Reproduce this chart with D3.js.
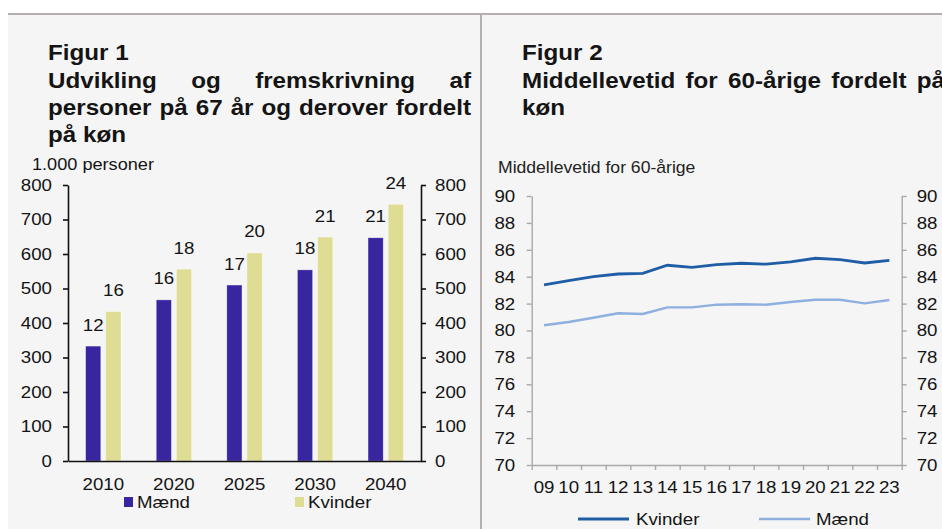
<!DOCTYPE html>
<html>
<head>
<meta charset="utf-8">
<script src="https://cdn.jsdelivr.net/npm/d3@7"></script>
<style>
  body { margin: 0; background: #fff; }
  svg { display: block; font-family: "Liberation Sans", Arial, sans-serif; }
</style>
</head>
<body>
<svg id="chart"></svg>
<script>
// figure 1 data (1.000 personer)
const years1 = ["2010", "2020", "2025", "2030", "2040"];
const series1 = ["Mænd", "Kvinder"];
const maend1 = [333, 467, 510, 554, 647];
const kvinder1 = [433, 556, 603, 649, 744];
const maendLabels = [12, 16, 17, 18, 21];
const kvinderLabels = [16, 18, 20, 21, 24];
const yTicks1 = [0, 100, 200, 300, 400, 500, 600, 700, 800];

// figure 2 data (middellevetid)
const years2 = ["09", "10", "11", "12", "13", "14", "15", "16", "17", "18", "19", "20", "21", "22", "23"];
const kvinder2 = [83.4, 83.7, 84.0, 84.2, 84.25, 84.85, 84.7, 84.9, 85.0, 84.93, 85.1, 85.37, 85.27, 85.02, 85.22];
const maend2 = [80.39, 80.63, 80.95, 81.28, 81.23, 81.72, 81.72, 81.92, 81.95, 81.92, 82.12, 82.29, 82.29, 82.02, 82.27];
const yTicks2 = [70, 72, 74, 76, 78, 80, 82, 84, 86, 88, 90];

const W = 942, H = 529;
const SX = 1.1; // the source is a bit stretched sideways
const ink = "#141414";

const svg = d3.select("#chart").attr("width", W).attr("height", H);

// background panels
svg.append("rect").attr("x", 8).attr("y", 14).attr("width", W - 8).attr("height", H - 14).attr("fill", "#f5f5f5");
svg.append("rect").attr("x", 8).attr("y", 13).attr("width", W - 8).attr("height", 2).attr("fill", "#b5b0ae");
svg.append("rect").attr("x", 480).attr("y", 13).attr("width", 2).attr("height", H - 13).attr("fill", "#b5b0ae");

function txt(g, x, y, s, size, opts = {}) {
    return g.append("text")
        .attr("transform", `translate(${x},${y}) scale(${SX},1)`)
        .attr("text-anchor", opts.anchor || "start")
        .attr("font-size", size)
        .attr("font-weight", opts.bold ? "bold" : "normal")
        .attr("fill", opts.fill || ink)
        .text(s);
}

// justified title lines: spread the words over the full width
function justify(g, x, y, words, width, size) {
    const nodes = words.map(w => txt(g, 0, y, w, size, {bold: true}));
    const widths = nodes.map(n => n.node().getComputedTextLength() * SX);
    const gap = (width - d3.sum(widths)) / (words.length - 1);
    let cx = x;
    nodes.forEach((n, i) => {
        n.attr("transform", `translate(${cx},${y}) scale(${SX},1)`);
        cx += widths[i] + gap;
    });
}

function styleAxis(g, color, width) {
    g.selectAll("path, line").attr("stroke", color).attr("stroke-width", width);
    g.selectAll("text")
        .attr("font-size", 17)
        .attr("fill", ink)
        .attr("font-family", "Liberation Sans, Arial, sans-serif");
}

// ---------- Figur 1 ----------
const t1 = svg.append("g");
txt(t1, 48, 60, "Figur 1", 22, {bold: true});
justify(t1, 48, 87.5, ["Udvikling", "og", "fremskrivning", "af"], 423, 22);
justify(t1, 48, 114.5, ["personer", "på", "67", "år", "og", "derover", "fordelt"], 423, 22);
txt(t1, 48, 141.5, "på køn", 22, {bold: true});
txt(t1, 32, 170, "1.000 personer", 16.5);

const p1 = {left: 68, right: 421, top: 185, bottom: 461};
const x0 = d3.scaleBand().domain(years1).range([p1.left, p1.right]).paddingInner(0.5).paddingOuter(0.25);
const x1 = d3.scaleBand().domain(series1).range([0, x0.bandwidth()]).paddingInner(0.25);
const y1 = d3.scaleLinear().domain([0, 800]).range([p1.bottom, p1.top]);
const colors1 = {"Mænd": "#3826a0", "Kvinder": "#dfdc93"};

const bars = years1.map((yr, i) => [
    {year: yr, key: "Mænd", value: maend1[i], label: maendLabels[i]},
    {year: yr, key: "Kvinder", value: kvinder1[i], label: kvinderLabels[i]}
]).flat();

const c1 = svg.append("g");
c1.selectAll("rect.bar")
    .data(bars)
    .join("rect")
    .attr("class", "bar")
    .attr("x", d => x0(d.year) + x1(d.key))
    .attr("y", d => y1(d.value))
    .attr("width", x1.bandwidth())
    .attr("height", d => y1(0) - y1(d.value))
    .attr("fill", d => colors1[d.key])
    .attr("stroke", "#ffffff")
    .attr("stroke-opacity", 0.5)
    .attr("stroke-width", 0.6);

bars.forEach(d => {
    txt(c1, x0(d.year) + x1(d.key) + x1.bandwidth() / 2, y1(d.value) - 15.5, d.label, 17, {anchor: "middle"});
});

const yl1 = c1.append("g")
    .attr("transform", `translate(${p1.left},0)`)
    .call(d3.axisLeft(y1).tickValues(yTicks1).tickSize(5).tickSizeOuter(0));
styleAxis(yl1, "#111", 1.6);
yl1.selectAll("text").attr("transform", `scale(${SX},1)`).attr("x", -16 / SX);

const yr1 = c1.append("g")
    .attr("transform", `translate(${p1.right},0)`)
    .call(d3.axisRight(y1).tickValues(yTicks1).tickSize(5).tickSizeOuter(0));
styleAxis(yr1, "#111", 1.6);
yr1.selectAll("text").attr("transform", `scale(${SX},1)`).attr("x", 14 / SX);

const xa1 = c1.append("g")
    .attr("transform", `translate(0,${p1.bottom})`)
    .call(d3.axisBottom(x0).tickSize(0).tickSizeOuter(0));
styleAxis(xa1, "#111", 1.6);
xa1.selectAll("text").attr("transform", `scale(${SX},1)`).attr("y", 29).attr("dy", 0);

// legend 1
const lg1 = svg.append("g");
[["Mænd", 124, 137], ["Kvinder", 295, 308]].forEach(([k, sx, tx]) => {
    lg1.append("rect").attr("x", sx).attr("y", 497).attr("width", 9).attr("height", 10).attr("fill", colors1[k]);
    txt(lg1, tx, 508, k, 17);
});

// ---------- Figur 2 ----------
const t2 = svg.append("g");
txt(t2, 522, 60, "Figur 2", 22, {bold: true});
justify(t2, 522, 87.5, ["Middellevetid", "for", "60-årige", "fordelt", "på"], 423, 22);
txt(t2, 522, 114.5, "køn", 22, {bold: true});
txt(t2, 498, 173, "Middellevetid for 60-årige", 16, {fill: "#222"});

const p2 = {left: 531.7, right: 901.7, top: 196, bottom: 465};
const x2 = d3.scaleBand().domain(years2).range([p2.left, p2.right]);
const xEdges = d3.scaleLinear().domain([0, years2.length]).range([p2.left, p2.right]);
const y2 = d3.scaleLinear().domain([70, 90]).range([p2.bottom, p2.top]);
const axisGrey = "#a9a9a9";

const c2 = svg.append("g");
const yl2 = c2.append("g")
    .attr("transform", `translate(${p2.left},0)`)
    .call(d3.axisLeft(y2).tickValues(yTicks2).tickSize(5).tickSizeOuter(0));
styleAxis(yl2, axisGrey, 1.4);
yl2.selectAll("text").attr("transform", `scale(${SX},1)`).attr("x", -16.5 / SX);

const yr2 = c2.append("g")
    .attr("transform", `translate(${p2.right},0)`)
    .call(d3.axisRight(y2).tickValues(yTicks2).tickSize(5).tickSizeOuter(0));
styleAxis(yr2, axisGrey, 1.4);
yr2.selectAll("text").attr("transform", `scale(${SX},1)`).attr("x", 15 / SX);

const xt2 = c2.append("g")
    .attr("transform", `translate(0,${p2.bottom})`)
    .call(d3.axisBottom(xEdges).ticks(years2.length).tickFormat("").tickSize(5).tickSizeOuter(0));
styleAxis(xt2, axisGrey, 1.4);

const xa2 = c2.append("g")
    .attr("transform", `translate(0,${p2.bottom})`)
    .call(d3.axisBottom(x2).tickSize(0).tickSizeOuter(0));
xa2.select(".domain").remove();
styleAxis(xa2, axisGrey, 1.4);
xa2.selectAll("text").attr("transform", `scale(${SX},1)`).attr("y", 28).attr("dy", 0);

const line2 = d3.line()
    .x((d, i) => x2(years2[i]) + x2.bandwidth() / 2)
    .y(d => y2(d));

const seriesColors2 = {"Kvinder": "#1f5ea6", "Mænd": "#8fafe0"};
c2.append("path").datum(maend2).attr("d", line2)
    .attr("fill", "none").attr("stroke", seriesColors2["Mænd"]).attr("stroke-width", 2.4);
c2.append("path").datum(kvinder2).attr("d", line2)
    .attr("fill", "none").attr("stroke", seriesColors2["Kvinder"]).attr("stroke-width", 2.8);

// legend 2
const lg2 = svg.append("g");
[["Kvinder", 578, 636], ["Mænd", 759, 816]].forEach(([k, lx, tx]) => {
    lg2.append("line").attr("x1", lx).attr("x2", lx + 51).attr("y1", 519).attr("y2", 519)
        .attr("stroke", seriesColors2[k]).attr("stroke-width", k === "Kvinder" ? 2.8 : 2.4);
    txt(lg2, tx, 525, k, 17);
});
</script>
</body>
</html>
